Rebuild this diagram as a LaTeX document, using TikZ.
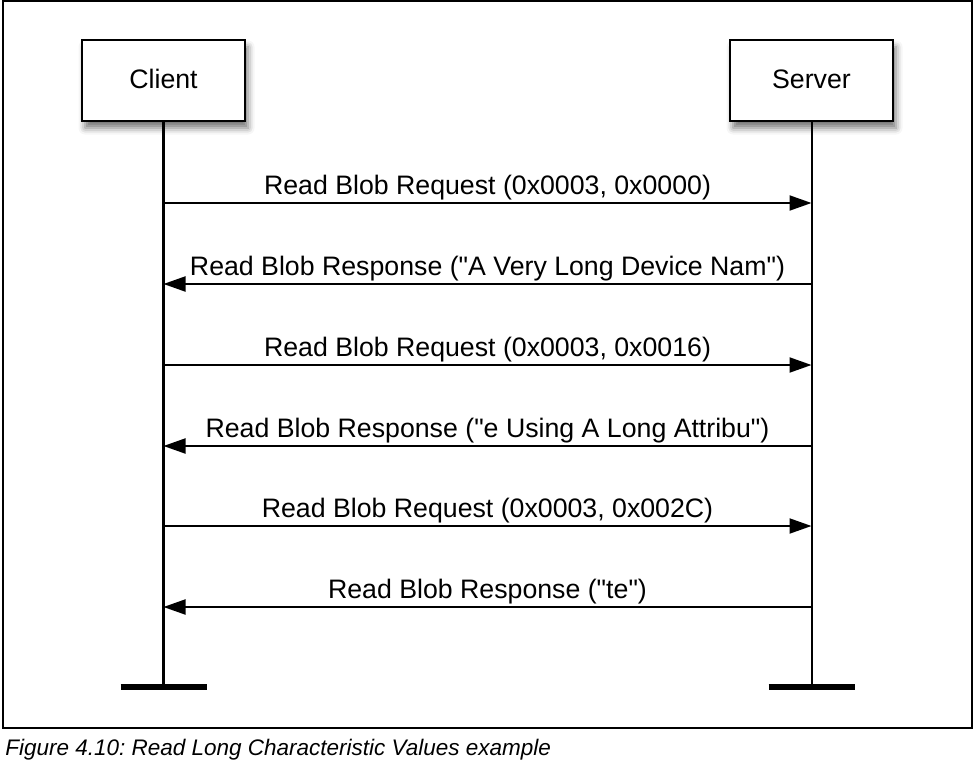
\documentclass[tikz,border=0pt]{standalone}
\usepackage{fontspec}
\setmainfont{Liberation Sans}
\usetikzlibrary{arrows.meta,shadows.blur}
\frenchspacing

\begin{document}
\begin{tikzpicture}[
    >={Triangle[length=4.4mm, width=3mm]},
    line/.style   = {line width=1.15pt},
    block/.style  = {draw, line width=1pt, fill=white,
                     font=\fontsize{15.2}{18}\selectfont,
                     minimum height=1.62cm, minimum width=3.26cm,
                     text height=1.8ex, text depth=0pt,
                     blur shadow={shadow xshift=0.6mm, shadow yshift=-1.4mm,
                                  shadow blur radius=1.3mm, shadow opacity=55}},
    sig/.style    = {font=\fontsize{15.2}{18}\selectfont, inner sep=1pt},
    bar/.style    = {line width=3.6pt}
]
\useasboundingbox (0,0) rectangle (19.52,-15.42);

% Frame round the sequence
\draw[line, line width=1.2pt] (0.06,-0.02) rectangle (19.44,-14.56);

% Participants and their lifelines
\node[block] (client) at ( 3.27, -1.61) {Client};
\node[block] (server) at (16.23, -1.61) {Server};

\coordinate (cend) at ( 3.27, -13.74);
\coordinate (send) at (16.23, -13.74);
\draw[line] (client.south) -- (cend);
\draw[line] (server.south) -- (send);
\foreach \e in {cend, send}
    \draw[bar] ([xshift=-8.6mm]\e) -- ([xshift=8.6mm]\e);

% Requests: client -> server
\foreach \y/\txt in {-4.06/{Read Blob Request (0x0003, 0x0000)},
                     -7.30/{Read Blob Request (0x0003, 0x0016)},
                     -10.52/{Read Blob Request (0x0003, 0x002C)}}
    \draw[->, line] (client |- 0,\y) -- (server |- 0,\y)
        node[sig, midway, above] {\txt};

% Responses: server -> client
\foreach \y/\txt in {-5.68/{Read Blob Response (\textquotedbl A Very Long Device Nam\textquotedbl)},
                     -8.92/{Read Blob Response (\textquotedbl e Using A Long Attribu\textquotedbl)},
                     -12.14/{Read Blob Response (\textquotedbl te\textquotedbl)}}
    \draw[->, line] (server |- 0,\y) -- (client |- 0,\y)
        node[sig, midway, above] {\txt};

% Caption
\node[font=\itshape\fontsize{12.8}{15}\selectfont, anchor=west, inner sep=0pt]
    (caption) at (0.1, -15.0) {Figure 4.10: Read Long Characteristic Values example};

\end{tikzpicture}
\end{document}
